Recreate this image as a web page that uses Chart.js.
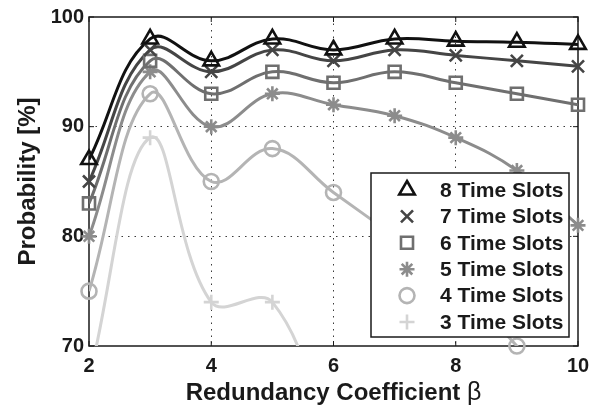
<!DOCTYPE html>
<html>
<head>
<meta charset="utf-8">
<script src="https://cdn.jsdelivr.net/npm/chart.js@4.4.0/dist/chart.umd.min.js"></script>
<style>
  html, body { margin: 0; padding: 0; background: #fff; }
  #wrap { width: 600px; height: 407px; }
</style>
</head>
<body>
<div id="wrap"><canvas id="slots-chart"></canvas></div>
<script>
// redundancy coefficient on x, success probability (%) per number of time slots
const beta = [2, 3, 4, 5, 6, 7, 8, 9, 10];
const slots8 = [87, 98, 96, 98, 97, 98, 97.8, 97.7, 97.5];
const slots7 = [85, 97, 95, 97, 96, 97, 96.5, 96, 95.5];
const slots6 = [83, 96, 93, 95, 94, 95, 94, 93, 92];
const slots5 = [80, 95, 90, 93, 92, 91, 89, 86, 81];
const slots4 = [75, 93, 85, 88, 84, 80, 76, 70, 64];
const slots3 = [67, 89, 74, 74, 60, null, null, null, null];
const seriesNames = ["8 Time Slots", "7 Time Slots", "6 Time Slots", "5 Time Slots", "4 Time Slots", "3 Time Slots"];
const xTicks = [2, 4, 6, 8, 10];
const yTicks = [70, 80, 90, 100];

const seriesValues = [slots8, slots7, slots6, slots5, slots4, slots3];
const colors = ["#111111", "#454545", "#6f6f6f", "#8c8c8c", "#b4b4b4", "#d4d4d4"];
const markers = ["triangle", "crossRot", "rect", "star", "circle", "cross"];
const markerSize = [9, 8.5, 8.5, 7.5, 7.5, 7.5];

const FONT = "'Liberation Sans', Arial, Helvetica, sans-serif";
const Y_MIN = 70, Y_MAX = 100;

const datasets = [];
seriesValues.forEach((vals, i) => {
  const pts = beta.map((b, k) => ({ x: b, y: vals[k] }));
  // smoothed line, clipped to the plot box
  datasets.push({
    label: seriesNames[i],
    data: pts,
    borderColor: colors[i],
    borderWidth: 3,
    pointRadius: 0,
    tension: 0.4,
    order: 1
  });
  // markers, not clipped so edge markers stay whole
  datasets.push({
    label: seriesNames[i] + " markers",
    data: pts.filter(p => p.y !== null && p.y >= Y_MIN),
    showLine: false,
    pointStyle: markers[i],
    pointRadius: markerSize[i],
    pointBorderColor: colors[i],
    pointBackgroundColor: "rgba(0,0,0,0)",
    pointBorderWidth: 2.6,
    clip: false,
    order: 0
  });
});

const boxPlugin = {
  id: "box",
  beforeDatasetsDraw(chart) {
    const { ctx, chartArea: a, scales: { x, y } } = chart;
    ctx.save();
    ctx.strokeStyle = "#1a1a1a";
    ctx.lineWidth = 1.5;
    ctx.strokeRect(a.left, a.top, a.right - a.left, a.bottom - a.top);
    ctx.lineWidth = 1;
    ctx.beginPath();
    xTicks.forEach(v => {
      const px = x.getPixelForValue(v);
      ctx.moveTo(px, a.bottom); ctx.lineTo(px, a.bottom - 5);
      ctx.moveTo(px, a.top); ctx.lineTo(px, a.top + 5);
    });
    yTicks.forEach(v => {
      const py = y.getPixelForValue(v);
      ctx.moveTo(a.left, py); ctx.lineTo(a.left + 5, py);
      ctx.moveTo(a.right, py); ctx.lineTo(a.right - 5, py);
    });
    ctx.stroke();
    ctx.restore();
  },
  afterDatasetsDraw(chart) {
    const { ctx, chartArea: a } = chart;
    // legend box inside the lower right of the plot
    const lx = 371, ly = 173, lw = 198, lh = 164;
    ctx.save();
    ctx.fillStyle = "#ffffff";
    ctx.fillRect(lx, ly, lw, lh);
    ctx.strokeStyle = "#1a1a1a";
    ctx.lineWidth = 1.5;
    ctx.strokeRect(lx, ly, lw, lh);
    ctx.font = "bold 21px " + FONT;
    ctx.textBaseline = "middle";
    ctx.textAlign = "left";
    seriesNames.forEach((name, i) => {
      const rowY = ly + 17 + i * 26.4;
      ctx.strokeStyle = colors[i];
      ctx.fillStyle = "rgba(0,0,0,0)";
      ctx.lineWidth = 2.6;
      Chart.helpers.drawPoint(ctx, {
        pointStyle: markers[i], radius: markerSize[i], rotation: 0, borderWidth: 2.6
      }, lx + 36, rowY);
      ctx.fillStyle = "#1a1a1a";
      ctx.fillText(name, lx + 69, rowY + 1);
    });

    // axis titles
    ctx.fillStyle = "#1a1a1a";
    ctx.textBaseline = "alphabetic";
    const main = "Redundancy Coefficient ";
    ctx.font = "bold 24px " + FONT;
    const w1 = ctx.measureText(main).width;
    ctx.font = "25px " + FONT;
    const w2 = ctx.measureText("β").width;
    const startX = (a.left + a.right) / 2 - (w1 + w2) / 2;
    ctx.font = "bold 24px " + FONT;
    ctx.fillText(main, startX, 400);
    ctx.font = "25px " + FONT;
    ctx.fillText("β", startX + w1, 400);

    ctx.translate(35, (a.top + a.bottom) / 2);
    ctx.rotate(-Math.PI / 2);
    ctx.textAlign = "center";
    ctx.font = "bold 24px " + FONT;
    ctx.fillText("Probability [%]", 0, 0);
    ctx.restore();
  }
};

const edgeHidden = (c, lo, hi) =>
  c.tick && (c.tick.value === lo || c.tick.value === hi) ? "rgba(0,0,0,0)" : "#3a3a3a";

new Chart(document.getElementById("slots-chart"), {
  type: "line",
  data: { datasets: datasets },
  options: {
    responsive: true,
    maintainAspectRatio: false,
    animation: false,
    layout: { padding: { left: 0, right: 22, top: 14, bottom: 0 } },
    plugins: { legend: { display: false }, tooltip: { enabled: false } },
    scales: {
      x: {
        type: "linear",
        min: 2,
        max: 10,
        afterFit: s => { s.height = 61; },
        ticks: {
          stepSize: 2,
          padding: 8,
          color: "#1a1a1a",
          font: { family: FONT, size: 20, weight: "bold" }
        },
        grid: { drawTicks: false, lineWidth: 1, color: c => edgeHidden(c, 2, 10) },
        border: { display: false, dash: [1.5, 5] }
      },
      y: {
        min: Y_MIN,
        max: Y_MAX,
        afterFit: s => { s.width = 89; },
        ticks: {
          stepSize: 10,
          padding: 5,
          color: "#1a1a1a",
          font: { family: FONT, size: 20, weight: "bold" }
        },
        grid: { drawTicks: false, lineWidth: 1, color: c => edgeHidden(c, Y_MIN, Y_MAX) },
        border: { display: false, dash: [1.5, 5] }
      }
    }
  },
  plugins: [boxPlugin]
});
</script>
</body>
</html>
